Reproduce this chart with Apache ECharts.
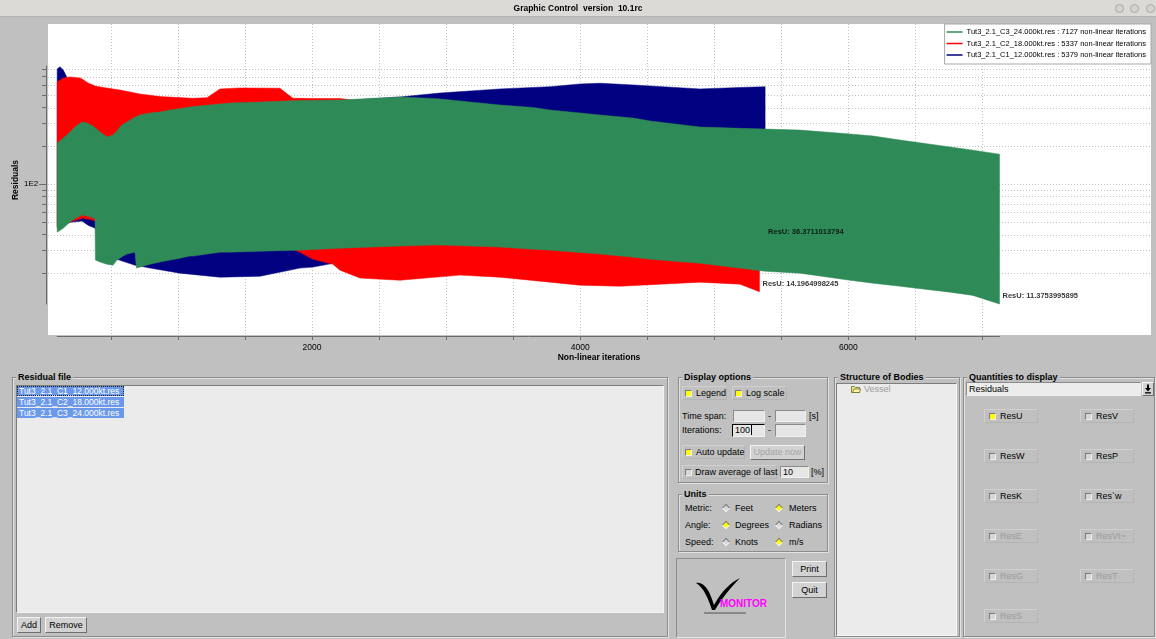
<!DOCTYPE html>
<html>
<head>
<meta charset="utf-8">
<title>Graphic Control version 10.1rc</title>
<script src="https://cdn.jsdelivr.net/npm/echarts@6/dist/echarts.min.js"></script>
<style>
  html, body { margin: 0; padding: 0; }
  body {
    width: 1156px; height: 639px; overflow: hidden; position: relative;
    background: #c0c0c0; color: #000;
    font-family: 'Liberation Sans', Arial, sans-serif; font-size: 9px;
  }
  #titlebar {
    position: absolute; left: 0; top: 0; width: 1156px; height: 16px;
    background: #dcdad6; border-bottom: 1px solid #b4b2ae; z-index: 3;
    text-align: center; font-weight: bold; font-size: 8.5px; line-height: 17px;
    white-space: pre;
  }
  .wbtn {
    position: absolute; top: 4px; width: 7px; height: 7px; border-radius: 50%;
    background: #d6d4d0; border: 1px solid #a8a6a2;
  }
  #chart-container { position: absolute; left: 0; top: 0; width: 1156px; height: 372px; z-index: 1; }
  .group {
    position: absolute; box-sizing: border-box;
    border: 1px solid #8c8c8c; box-shadow: inset 1px 1px 0 #e2e2e2, 1px 1px 0 #e2e2e2;
  }
  .gtitle {
    position: absolute; top: -6px; left: 3px; padding: 0 2px; background: #c0c0c0;
    font-weight: bold; font-size: 9px; line-height: 10px; white-space: nowrap;
  }
  .t { position: absolute; font-size: 9px; line-height: 10px; white-space: nowrap; }
  .dis { color: #9c9c9c; }
  .sunken {
    position: absolute; box-sizing: border-box; background: #ebebeb;
    border: 1px solid; border-color: #7c7c7c #f4f4f4 #f4f4f4 #7c7c7c;
  }
  .input {
    position: absolute; box-sizing: border-box; background: #e6e6e6;
    border: 1px solid; border-color: #8a8a8a #f0f0f0 #f0f0f0 #8a8a8a;
    font-size: 9px; line-height: 10px; padding-left: 2px;
  }
  .btn {
    position: absolute; box-sizing: border-box; background: #d2d2d2;
    border: 1px solid; border-color: #f4f4f4 #6e6e6e #6e6e6e #f4f4f4;
    font-size: 9px; text-align: center; white-space: nowrap;
  }
  .cell {
    position: absolute; box-sizing: border-box;
    border: 1px solid; border-color: #d0d0d0 #b4b4b4 #b4b4b4 #d0d0d0;
  }
  .chk {
    position: absolute; box-sizing: border-box; width: 7px; height: 7px; background: #d6d6d6;
    border: 1px solid; border-color: #7a7a7a #f0f0f0 #f0f0f0 #7a7a7a;
  }
  .chk.on { background: #ffff00; }
  .dia {
    position: absolute; box-sizing: border-box; width: 6px; height: 6px; background: #d6d6d6;
    border: 1px solid; border-color: #7a7a7a #f0f0f0 #f0f0f0 #7a7a7a; transform: rotate(45deg);
  }
  .dia.on { background: #ffff00; }
  .item {
    position: absolute; left: 17px; width: 107px; height: 10px; box-sizing: border-box;
    background: #6a98ea; color: #fff; font-size: 8.5px; line-height: 10px; padding-left: 2px;
    white-space: nowrap;
  }
</style>
</head>
<body>

<div id="titlebar">Graphic Control  version  10.1rc
  <span class="wbtn" style="left:1115px"></span>
  <span class="wbtn" style="left:1130px"></span>
  <span class="wbtn" style="left:1146px"></span>
</div>

<div id="chart-container"></div>

<!-- Residual file -->
<div class="group" style="left:12px;top:377px;width:656px;height:260px">
  <span class="gtitle">Residual file</span>
</div>
<div class="sunken" style="left:16px;top:385px;width:648px;height:228px"></div>
<div class="item" id="file0" style="top:386px;outline:1px dotted #222;outline-offset:-1px"></div>
<div class="item" id="file1" style="top:397px"></div>
<div class="item" id="file2" style="top:408px"></div>
<div class="btn" style="left:17px;top:617px;width:24px;height:16px;line-height:14px">Add</div>
<div class="btn" style="left:45px;top:617px;width:42px;height:16px;line-height:14px">Remove</div>

<!-- Display options -->
<div class="group" style="left:678px;top:377px;width:150px;height:106px">
  <span class="gtitle">Display options</span>
</div>
<div class="cell" style="left:682px;top:386px;width:45px;height:14px"></div>
<div class="cell" style="left:732px;top:386px;width:55px;height:14px"></div>
<span class="chk on" style="left:685px;top:390px"></span><span class="t" style="left:696px;top:388px">Legend</span>
<span class="chk on" style="left:735px;top:390px"></span><span class="t" style="left:746px;top:388px">Log scale</span>
<span class="t" style="left:682px;top:411px">Time span:</span>
<div class="input" style="left:733px;top:410px;width:32px;height:12px"></div>
<span class="t" style="left:768px;top:411px">-</span>
<div class="input" style="left:775px;top:410px;width:31px;height:12px"></div>
<span class="t" style="left:809px;top:411px">[s]</span>
<span class="t" style="left:682px;top:425px">Iterations:</span>
<div class="input" style="left:732px;top:424px;width:33px;height:13px;border-color:#000 #f0f0f0 #f0f0f0 #000">100<span style="border-left:1px solid #000;margin-left:1px"></span></div>
<span class="t" style="left:768px;top:425px">-</span>
<div class="input" style="left:775px;top:424px;width:31px;height:13px"></div>
<div class="cell" style="left:682px;top:445px;width:63px;height:14px"></div>
<span class="chk on" style="left:685px;top:449px"></span><span class="t" style="left:696px;top:447px">Auto update</span>
<div class="btn" style="left:750px;top:445px;width:55px;height:15px;line-height:13px;color:#a4a4a4">Update now</div>
<div class="cell" style="left:682px;top:465px;width:95px;height:14px"></div>
<span class="chk" style="left:685px;top:469px"></span><span class="t" style="left:695px;top:467px">Draw average of last</span>
<div class="input" style="left:780px;top:466px;width:29px;height:12px">10</div>
<span class="t" style="left:811px;top:467px">[%]</span>

<!-- Units -->
<div class="group" style="left:678px;top:494px;width:150px;height:58px">
  <span class="gtitle">Units</span>
</div>
<span class="t" style="left:685px;top:503px">Metric:</span>
<span class="dia" style="left:723px;top:505px"></span><span class="t" style="left:735px;top:503px">Feet</span>
<span class="dia on" style="left:776px;top:505px"></span><span class="t" style="left:789px;top:503px">Meters</span>
<span class="t" style="left:685px;top:520px">Angle:</span>
<span class="dia on" style="left:723px;top:522px"></span><span class="t" style="left:735px;top:520px">Degrees</span>
<span class="dia" style="left:776px;top:522px"></span><span class="t" style="left:789px;top:520px">Radians</span>
<span class="t" style="left:685px;top:537px">Speed:</span>
<span class="dia" style="left:723px;top:539px"></span><span class="t" style="left:735px;top:537px">Knots</span>
<span class="dia on" style="left:776px;top:539px"></span><span class="t" style="left:789px;top:537px">m/s</span>

<!-- logo and buttons -->
<div style="position:absolute;left:676px;top:558px;width:110px;height:80px;box-sizing:border-box;border:1px solid;border-color:#8c8c8c #e4e4e4 #e4e4e4 #8c8c8c"></div>
<svg style="position:absolute;left:676px;top:558px" width="110" height="80" viewBox="0 0 110 80">
  <path d="M20 25 C28 23 34 33 38 47 C46 33 54 25 64 20 C56 28 46 40 39 52 L36 52 C32 40 28 30 20 25 Z" fill="#000"/>
  <text x="44" y="49" font-family="Liberation Sans, Arial, sans-serif" font-size="10" font-weight="bold" fill="#ff00ff">MONITOR</text>
  <line x1="28" y1="55" x2="70" y2="55" stroke="#333" stroke-width="0.8"/>
</svg>
<div class="btn" style="left:792px;top:561px;width:35px;height:16px;line-height:14px">Print</div>
<div class="btn" style="left:792px;top:582px;width:35px;height:16px;line-height:14px">Quit</div>

<!-- Structure of Bodies -->
<div class="group" style="left:834px;top:377px;width:126px;height:260px">
  <span class="gtitle">Structure of Bodies</span>
</div>
<div class="sunken" style="left:836px;top:383px;width:121px;height:253px"></div>
<svg style="position:absolute;left:851px;top:385px" width="10" height="8" viewBox="0 0 10 8">
  <path d="M0.5 1.5 H3.5 L4.5 2.5 H8.5 V7.5 H0.5 Z" fill="#f0e68c" stroke="#6b6b2a" stroke-width="0.8"/>
  <path d="M1.5 7.5 L3 4 H9.5 L8.5 7.5 Z" fill="#fff7a8" stroke="#6b6b2a" stroke-width="0.8"/>
</svg>
<span class="t dis" style="left:864px;top:384px">Vessel</span>

<!-- Quantities to display -->
<div class="group" style="left:963px;top:377px;width:192px;height:260px">
  <span class="gtitle">Quantities to display</span>
</div>
<div class="input" style="left:966px;top:382px;width:175px;height:14px;background:#ececec;line-height:12px">Residuals</div>
<div class="btn" style="left:1142px;top:382px;width:12px;height:14px"></div>
<svg style="position:absolute;left:1144px;top:384px" width="8" height="10" viewBox="0 0 8 10">
  <path d="M3 0.5 H5 V4 H7 L4 7.5 L1 4 H3 Z" fill="#000"/><rect x="1" y="8.2" width="6" height="1.3" fill="#000"/>
</svg>
<div id="quantities"></div>

<script>
(function () {

    // ---- data ----
    const fileNames = ['Tut3_2.1_C1_12.000kt.res', 'Tut3_2.1_C2_18.000kt.res', 'Tut3_2.1_C3_24.000kt.res'];
    const iterationCounts = [5379, 5337, 7127];
    const seriesColors = ['#000080', '#ff0000', '#2e8b57'];

    // envelope of the oscillating ResU residual: upper and lower bound per iteration
    const itersC1 = [100, 120, 145, 175, 210, 285, 330, 382, 420, 456, 546, 608, 680, 717, 792, 1016, 1314, 1612, 1910, 2007, 2209, 2656, 2955, 3402, 3775, 4000, 4148, 4394, 4894, 5192, 5379];
    const upperC1 = [806, 840, 791, 684, 550, 503, 485, 468, 459, 451, 443, 435, 427, 427, 419, 419, 427, 435, 443, 443, 451, 485, 521, 561, 584, 614, 622, 603, 561, 576, 584];
    const lowerC1 = [46.7, 47.5, 48.4, 49.3, 50.2, 51.1, 47.5, 45.0, 39.6, 30.2, 25.6, 24.3, 23.0, 22.6, 21.8, 19.9, 18.5, 18.8, 21.8, 22.2, 24.3, 24.3, 24.3, 24.3, 23.8, 23.8, 23.8, 23.8, 24.3, 24.3, 24.3];

    const itersC2 = [100, 145, 195, 270, 285, 330, 367, 382, 420, 568, 717, 866, 1113, 1217, 1314, 1463, 1761, 1858, 1910, 2007, 2156, 2209, 2358, 2656, 3104, 3402, 4000, 4297, 4894, 5192, 5337];
    const upperC2 = [636, 684, 697, 684, 672, 625, 603, 592, 581, 550, 512, 488, 473, 479, 561, 571, 568, 473, 473, 472, 472, 472, 451, 419, 383, 356, 314, 292, 262, 243, 235];
    const lowerC2 = [45.0, 46.7, 50.2, 53.0, 54.0, 53.0, 52.0, 51.1, 41.8, 37.5, 36.2, 34.9, 33.7, 33.1, 33.1, 32.5, 31.3, 30.7, 29.1, 25.6, 23.4, 21.0, 18.2, 17.5, 19.2, 18.5, 16.0, 15.7, 16.9, 16.3, 14.1965];

    const itersC3 = [100, 145, 195, 240, 285, 322, 367, 382, 385, 420, 471, 516, 546, 568, 591, 621, 680, 691, 717, 792, 866, 941, 1016, 1090, 1113, 1314, 1388, 1612, 1910, 2209, 2656, 2902, 2955, 3402, 3648, 3775, 4148, 4394, 4521, 4894, 5379, 5639, 6012, 6184, 6385, 6758, 6929, 7127];
    const upperC3 = [210, 230, 257, 286, 308, 302, 286, 276, 276, 257, 235, 243, 262, 281, 297, 308, 337, 340, 350, 363, 369, 383, 394, 404, 408, 427, 435, 443, 455, 459, 485, 472, 468, 419, 401, 383, 350, 331, 314, 281, 271, 266, 248, 239, 222, 196, 185, 172];
    const lowerC3 = [41.8, 45.0, 50.2, 54.0, 57.0, 56.0, 54.0, 53.0, 25.2, 24.3, 23.4, 23.0, 25.2, 26.1, 27.1, 28.1, 29.1, 21.8, 22.2, 23.4, 24.3, 25.2, 26.1, 27.1, 27.1, 29.1, 29.1, 29.6, 30.2, 31.3, 32.5, 33.1, 33.1, 31.9, 30.7, 30.2, 28.1, 26.6, 25.6, 23.8, 20.6, 19.9, 17.5, 16.6, 15.7, 14.1, 13.3, 11.3754];

    // last ResU value written at the end of each curve
    const lastResU = ['36.3711013794', '14.1964998245', '11.3753995895'];

    // axis ticks
    const xTicks = [500, 1000, 1500, 2000, 2500, 3000, 3500, 4000, 4500, 5000, 5500, 6000, 6500, 7000];
    const xLabels = [2000, 4000, 6000];
    const yTicks = [20, 30, 40, 50, 60, 70, 80, 90, 200, 300, 400, 500, 600, 700, 800];
    const yMajor = [100];

    const quantities = [['ResU', 'ResV'], ['ResW', 'ResP'], ['ResK', 'Res`w'], ['ResE', 'ResVt~'], ['ResG', 'ResT'], ['ResS']];
    const disabledQuantities = ['ResE', 'ResVt~', 'ResG', 'ResT', 'ResS'];
    const checkedQuantities = ['ResU'];

    // ---- widgets filled from the data ----
    fileNames.forEach((f, i) => { document.getElementById('file' + i).textContent = f; });
    const qHost = document.getElementById('quantities');
    quantities.forEach((row, r) => {
        const cy = 416 + r * 40;
        row.forEach((q, c) => {
            const x = c === 0 ? 984 : 1080;
            const cls = disabledQuantities.includes(q) ? 't dis' : 't';
            const on = checkedQuantities.includes(q) ? ' on' : '';
            qHost.insertAdjacentHTML('beforeend',
                '<div class="cell" style="left:' + x + 'px;top:' + (cy - 7) + 'px;width:54px;height:14px"></div>' +
                '<span class="chk' + on + '" style="left:' + (x + 5) + 'px;top:' + (cy - 3) + 'px"></span>' +
                '<span class="' + cls + '" style="left:' + (x + 16) + 'px;top:' + (cy - 5) + 'px"></span>');
            qHost.lastElementChild.textContent = q;
        });
    });

    // ---- chart ----
    const PANEL = { left: 48, top: 24, right: 1151, bottom: 335 };
    const Y_MIN = 11.3754, Y_MAX = 850;
    const FONT = 'Liberation Sans, Arial, sans-serif';

    const chartDom = document.getElementById('chart-container');
    const myChart = echarts.init(chartDom, null, { renderer: 'canvas' });

    // one filled polygon per file: upper envelope forward, lower envelope back
    function bandSeries(idx, iters, upper, lower) {
        return {
            type: 'custom',
            name: fileNames[idx],
            coordinateSystem: 'cartesian2d',
            silent: true,
            itemStyle: { color: seriesColors[idx] },
            data: iters.map((x, i) => [x, upper[i], lower[i]]),
            renderItem: function (params, api) {
                if (params.dataIndex !== 0) return null;
                const top = [], bottom = [];
                for (let i = 0; i < iters.length; i++) {
                    top.push(api.coord([iters[i], upper[i]]));
                    bottom.unshift(api.coord([iters[i], lower[i]]));
                }
                return {
                    type: 'polygon',
                    shape: { points: top.concat(bottom) },
                    style: { fill: seriesColors[idx], stroke: seriesColors[idx], lineWidth: 0.5 }
                };
            }
        };
    }

    // dotted grid that spans the whole white panel (wider than the axes)
    const gridSeries = {
        type: 'custom',
        coordinateSystem: 'cartesian2d',
        silent: true,
        z: 1,
        data: [[xTicks[0], yTicks[0]]],
        renderItem: function (params, api) {
            if (params.dataIndex !== 0) return null;
            const children = [];
            const dash = { stroke: '#c2c2c2', lineWidth: 1, lineDash: [1, 2] };
            xTicks.forEach(v => {
                const x = Math.round(api.coord([v, Y_MIN])[0]) + 0.5;
                children.push({ type: 'line', shape: { x1: x, y1: PANEL.top, x2: x, y2: PANEL.bottom }, style: dash });
            });
            yTicks.concat(yMajor).forEach(v => {
                const y = Math.round(api.coord([xTicks[0], v])[1]) + 0.5;
                children.push({ type: 'line', shape: { x1: PANEL.left, y1: y, x2: PANEL.right, y2: y }, style: dash });
            });
            return { type: 'group', children: children };
        }
    };

    const lastSeries = {
        type: 'scatter',
        silent: true,
        z: 5,
        symbolSize: 0,
        data: [
            [iterationCounts[0], parseFloat(lastResU[0])],
            [iterationCounts[1], parseFloat(lastResU[1])],
            [iterationCounts[2], parseFloat(lastResU[2])]
        ],
        label: {
            show: true,
            position: [3, -8],
            align: 'left',
            verticalAlign: 'middle',
            fontFamily: FONT,
            fontSize: 7.5,
            fontWeight: 'bold',
            color: '#000',
            formatter: p => 'ResU: ' + lastResU[p.dataIndex]
        }
    };

    const option = {
        animation: false,
        backgroundColor: 'transparent',
        textStyle: { fontFamily: FONT },
        graphic: [
            {
                type: 'rect', z: -10, silent: true,
                shape: { x: PANEL.left, y: PANEL.top, width: PANEL.right - PANEL.left, height: PANEL.bottom - PANEL.top },
                style: { fill: '#ffffff' }
            },
            {
                type: 'text', silent: true, x: 599, y: 358,
                style: { text: 'Non-linear iterations', font: 'bold 8.5px ' + FONT, fill: '#000', align: 'center', verticalAlign: 'middle' }
            },
            {
                type: 'text', silent: true, x: 16, y: 180, rotation: Math.PI / 2,
                style: { text: 'Residuals', font: 'bold 8.5px ' + FONT, fill: '#000', align: 'center', verticalAlign: 'middle' }
            }
        ],
        legend: {
            orient: 'vertical',
            right: 5,
            top: 24,
            data: [fileNames[2], fileNames[1], fileNames[0]],
            selectedMode: false,
            icon: 'rect',
            itemWidth: 16,
            itemHeight: 1.5,
            itemGap: 3.5,
            backgroundColor: '#ffffff',
            borderColor: '#a8a8a8',
            borderWidth: 1,
            borderRadius: 0,
            padding: [4, 5, 5, 2],
            textStyle: { fontSize: 7.5, lineHeight: 8, color: '#000', fontFamily: FONT, padding: [0, 0, 0, -1] },
            formatter: name => name + ' : ' + iterationCounts[fileNames.indexOf(name)] + ' non-linear iterations'
        },
        grid: { left: 57.2, right: 156.5, top: 66, height: 238, containLabel: false },
        xAxis: {
            type: 'value',
            min: 100,
            max: 7127,
            offset: 32,
            axisLine: { show: true, onZero: false, lineStyle: { color: '#6a6a6a', width: 1 } },
            axisTick: { show: true, length: 4, customValues: xTicks, lineStyle: { color: '#6a6a6a' } },
            axisLabel: { customValues: xLabels, fontSize: 8.5, color: '#000', margin: 7, formatter: v => String(v) },
            splitLine: { show: false }
        },
        yAxis: [
            {
                type: 'log',
                min: Y_MIN,
                max: Y_MAX,
                offset: 11,
                position: 'left',
                axisLine: { show: true, lineStyle: { color: '#6a6a6a', width: 1 } },
                axisTick: { show: true, length: 4, customValues: yTicks, lineStyle: { color: '#6a6a6a' } },
                axisLabel: { show: false },
                splitLine: { show: false }
            },
            {
                type: 'log',
                min: Y_MIN,
                max: Y_MAX,
                offset: 11,
                position: 'left',
                axisLine: { show: false },
                axisTick: { show: true, length: 7, customValues: yMajor, lineStyle: { color: '#6a6a6a' } },
                axisLabel: { customValues: yMajor, fontSize: 8, color: '#000', margin: 8, formatter: () => '1E2' },
                splitLine: { show: false }
            }
        ],
        series: [
            gridSeries,
            bandSeries(0, itersC1, upperC1, lowerC1),
            bandSeries(1, itersC2, upperC2, lowerC2),
            bandSeries(2, itersC3, upperC3, lowerC3),
            lastSeries
        ]
    };

    myChart.setOption(option);
}());
</script>
</body>
</html>
